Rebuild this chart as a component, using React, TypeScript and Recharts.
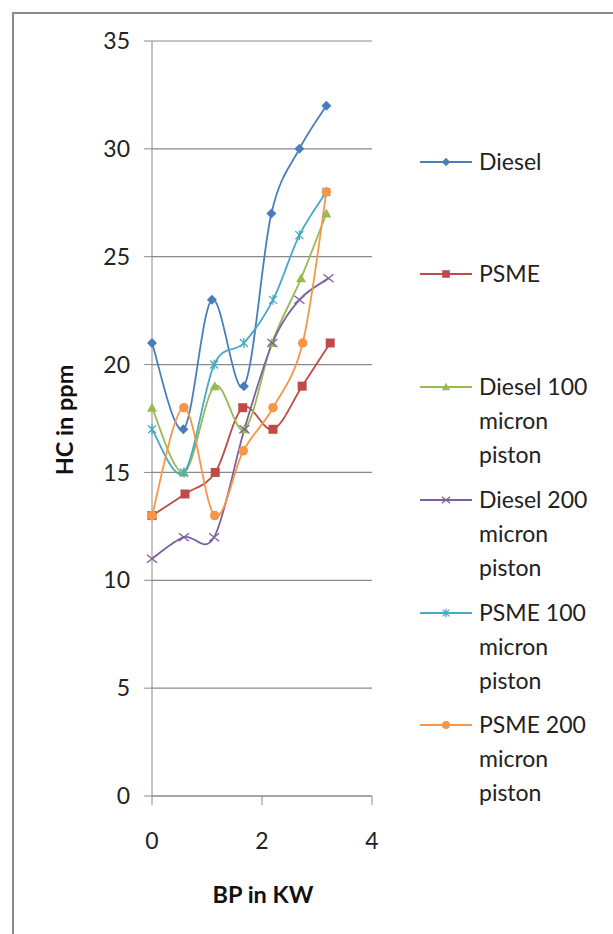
import React from "react";
import { LineChart, Line, XAxis, YAxis, CartesianGrid } from "recharts";

// ---- data ----
const seriesNames = [
  "Diesel",
  "PSME",
  "Diesel 100 micron piston",
  "Diesel 200 micron piston",
  "PSME 100 micron piston",
  "PSME 200 micron piston",
];
const legendLines = [
  ["Diesel"],
  ["PSME"],
  ["Diesel 100", "micron", "piston"],
  ["Diesel 200", "micron", "piston"],
  ["PSME 100", "micron", "piston"],
  ["PSME 200", "micron", "piston"],
];
const dieselBP = [0, 0.57, 1.09, 1.67, 2.17, 2.68, 3.17];
const dieselHC = [21, 17, 23, 19, 27, 30, 32];
const psmeBP = [0, 0.6, 1.15, 1.65, 2.2, 2.73, 3.24];
const psmeHC = [13, 14, 15, 18, 17, 19, 21];
const diesel100BP = [0, 0.58, 1.14, 1.68, 2.18, 2.71, 3.17];
const diesel100HC = [18, 15, 19, 17, 21, 24, 27];
const diesel200BP = [0, 0.58, 1.13, 1.68, 2.19, 2.68, 3.21];
const diesel200HC = [11, 12, 12, 17, 21, 23, 24];
const psme100BP = [0, 0.58, 1.13, 1.67, 2.2, 2.68, 3.17];
const psme100HC = [17, 15, 20, 21, 23, 26, 28];
const psme200BP = [0, 0.58, 1.14, 1.66, 2.2, 2.74, 3.17];
const psme200HC = [13, 18, 13, 16, 18, 21, 28];
const xTicks = [0, 2, 4];
const yTicks = [0, 5, 10, 15, 20, 25, 30, 35];

const colors = ["#4A7EBB", "#BE4B48", "#98B954", "#7D60A0", "#46AAC5", "#F79646"];
const markers = ["diamond", "square", "triangle", "x", "star", "circle"];

const build = (xs: number[], ys: number[]) => xs.map((x, i) => ({ x, y: ys[i] }));
const seriesData = [
  build(dieselBP, dieselHC),
  build(psmeBP, psmeHC),
  build(diesel100BP, diesel100HC),
  build(diesel200BP, diesel200HC),
  build(psme100BP, psme100HC),
  build(psme200BP, psme200HC),
];

const FONT = "Lato, 'Open Sans', sans-serif";

// Excel-like smoothing (Catmull-Rom to Bezier)
const excelCurve = (context: any) => {
  let pts: number[][] = [];
  return {
    areaStart() {},
    areaEnd() {},
    lineStart() {
      pts = [];
    },
    point(x: number, y: number) {
      pts.push([+x, +y]);
    },
    lineEnd() {
      if (!pts.length) return;
      context.moveTo(pts[0][0], pts[0][1]);
      for (let i = 0; i < pts.length - 1; i++) {
        const p0 = pts[i - 1] || pts[i];
        const p1 = pts[i];
        const p2 = pts[i + 1];
        const p3 = pts[i + 2] || p2;
        const c1x = p1[0] + (p2[0] - p0[0]) / 6;
        const c1y = p1[1] + (p2[1] - p0[1]) / 6;
        const c2x = p2[0] - (p3[0] - p1[0]) / 6;
        const c2y = p2[1] - (p3[1] - p1[1]) / 6;
        context.bezierCurveTo(c1x, c1y, c2x, c2y, p2[0], p2[1]);
      }
    },
  };
};

const Marker = ({ kind, cx, cy, color, s }: { kind: string; cx: number; cy: number; color: string; s: number }) => {
  if (cx == null || cy == null) return null;
  switch (kind) {
    case "diamond":
      return <path d={`M${cx},${cy - s}L${cx + s},${cy}L${cx},${cy + s}L${cx - s},${cy}Z`} fill={color} />;
    case "square":
      return <rect x={cx - s * 0.9} y={cy - s * 0.9} width={s * 1.8} height={s * 1.8} fill={color} />;
    case "triangle":
      return <path d={`M${cx},${cy - s}L${cx + s},${cy + s * 0.8}L${cx - s},${cy + s * 0.8}Z`} fill={color} />;
    case "x":
      return (
        <path
          d={`M${cx - s},${cy - s * 0.8}L${cx + s},${cy + s * 0.8}M${cx - s},${cy + s * 0.8}L${cx + s},${cy - s * 0.8}`}
          stroke={color}
          strokeWidth={1.3}
          fill="none"
        />
      );
    case "star":
      return (
        <path
          d={`M${cx - s * 0.8},${cy - s * 0.8}L${cx + s * 0.8},${cy + s * 0.8}M${cx - s * 0.8},${cy + s * 0.8}L${cx + s * 0.8},${cy - s * 0.8}M${cx},${cy - s}L${cx},${cy + s}`}
          stroke={color}
          strokeWidth={1.3}
          fill="none"
        />
      );
    default:
      return <circle cx={cx} cy={cy} r={s * 0.95} fill={color} />;
  }
};

const legendTop = [162, 274, 387, 500, 613, 725];

export default function App() {
  return (
    <div style={{ position: "absolute", left: 0, top: 0, width: 613, height: 934, background: "#fff" }}>
      <LineChart
        width={613}
        height={934}
        margin={{ top: 41, right: 241, bottom: 78, left: 92 }}
        style={{ fontFamily: FONT }}
      >
        <CartesianGrid vertical={false} stroke="#8a8a8a" strokeWidth={1.2} />
        <XAxis
          type="number"
          dataKey="x"
          domain={[0, 4]}
          ticks={xTicks}
          allowDuplicatedCategory={false}
          height={60}
          stroke="#8a8a8a"
          tickSize={9}
          tickMargin={28}
          tick={{ fill: "#222", fontSize: 23, fontFamily: FONT }}
        />
        <YAxis
          type="number"
          domain={[0, 35]}
          ticks={yTicks}
          width={60}
          stroke="#8a8a8a"
          tickSize={8}
          tickMargin={14}
          tick={{ fill: "#222", fontSize: 23, fontFamily: FONT }}
        />
        {seriesData.map((d, i) => (
          <Line
            key={seriesNames[i]}
            name={seriesNames[i]}
            data={d}
            dataKey="y"
            type={excelCurve as any}
            stroke={colors[i]}
            strokeWidth={1.8}
            isAnimationActive={false}
            dot={(p: any) => <Marker key={`${i}-${p.index}`} kind={markers[i]} cx={p.cx} cy={p.cy} color={colors[i]} s={5} />}
            activeDot={false}
          />
        ))}
      </LineChart>
      <svg
        width={613}
        height={934}
        style={{ position: "absolute", left: 0, top: 0, pointerEvents: "none", fontFamily: FONT }}
      >
        <path d="M13,934L13,13L613,13" stroke="#8c8c8c" strokeWidth={2} fill="none" />
        <text
          x={0}
          y={0}
          transform="translate(73,420) rotate(-90)"
          textAnchor="middle"
          fontSize={23.5}
          fontWeight="bold"
          fill="#111"
        >
          HC in ppm
        </text>
        <text x={263} y={903} textAnchor="middle" fontSize={23.5} fontWeight="bold" fill="#111">
          BP in KW
        </text>
        {legendLines.map((lines, i) => (
          <g key={i}>
            <line x1={420} x2={472} y1={legendTop[i]} y2={legendTop[i]} stroke={colors[i]} strokeWidth={1.8} />
            <Marker kind={markers[i]} cx={446} cy={legendTop[i]} color={colors[i]} s={4.2} />
            {lines.map((t, j) => (
              <text key={j} x={479} y={legendTop[i] + 8 + j * 34} fontSize={23} fill="#222">
                {t}
              </text>
            ))}
          </g>
        ))}
      </svg>
    </div>
  );
}
